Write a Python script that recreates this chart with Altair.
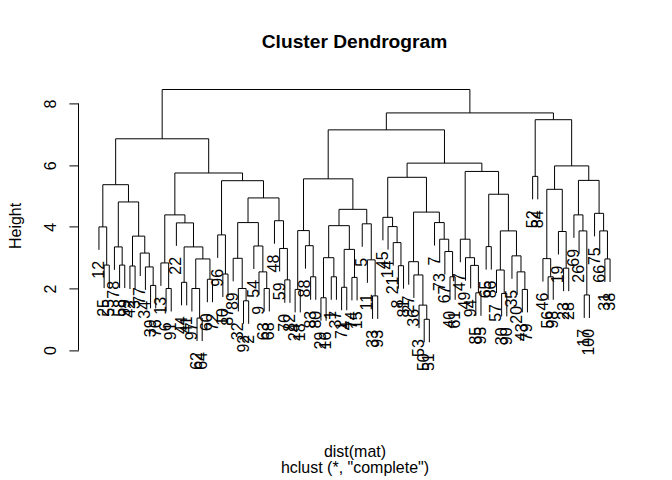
import altair as alt
import pandas as pd

# Dendrogram: each merge is (height, left, right); leaves are row labels.
LA = (5.37,
      (4.00, 12, (2.76, 25, 55)),
      (4.81,
       (3.35, 78, (2.76, 58, 99)),
       (3.70,
        (2.73, 42, 3),
        (3.15, 77, (2.70, 34, (2.10, 39, 76))))))
LB1 = (4.39,
       (2.83, 13, (2.00, 6, 91)),
       (4.13, 22,
        (3.35,
         (2.20, 44, 41),
         (2.96,
          (2.00, 97, (1.04, 62, 64)),
          (2.30, 60, 72)))))
LB2A = (3.74, 96, (2.47, 10, 87))
LB2B = (4.94,
        (4.14,
         (2.98, 89, (2.00, 32, (1.60, 92, 2))),
         (3.38, 54, (2.54, 9, (2.00, 63, 68)))),
        (4.20, 48, (3.30, 59, (2.28, 70, 82))))
RL1A = (3.88, (1.97, 24, 18), (3.39, 88, (2.38, 83, 80)))
RL1B = (4.57,
        (4.04,
         (3.00, (1.70, 29, 16), (2.38, 1, 37)),
         (3.27, (2.04, 71, 4), (2.36, 74, 15))),
        (4.10, 5, (2.93, 11, (1.76, 33, 93))))
RL2A = (5.61,
        (4.31, 45, (4.01, 14, (3.49, 21, (2.74, 8, 81)))),
        (4.48,
         (2.87, 27, (2.44, 36, (1.46, 53, (1.00, 50, 51)))),
         (4.14, 7, (3.60, 73, (3.20, 67, (2.38, 40, 61))))))
RL2B = (5.80,
        (3.60, 47, (3.00, 49, (2.75, 94, (1.86, 85, 95)))),
        (5.06,
         (3.36, 65, 86),
         (3.87,
          (2.60, 57, (1.84, 30, 90)),
          (3.06, 35, (2.54, 20, (1.97, 43, 79))))))
RR = (7.48,
      (5.64, 52, 84),
      (5.98,
       (5.22,
        (2.97, 46, (2.38, 56, 98)),
        (3.85, 19, (2.66, 23, 28))),
       (5.51,
        (4.39, 69, (3.87, 26, (1.79, 17, 100))),
        (4.44, 75, (3.87, 66, (2.96, 31, 38))))))
TREE = (8.46,
        (6.86, LA, (5.75, LB1, (5.50, LB2A, LB2B))),
        (7.70, (7.15, (5.56, RL1A, RL1B), (6.07, RL2A, RL2B)), RR))

Y_TICKS = [0, 2, 4, 6, 8]
TITLE = "Cluster Dendrogram"
XLAB = ["dist(mat)", 'hclust (*, "complete")']
YLAB = "Height"
FONT = "Liberation Sans"


def heights(node):
    if not isinstance(node, tuple):
        return []
    return [node[0]] + heights(node[1]) + heights(node[2])


all_h = heights(TREE)
hang = 0.1 * (max(all_h) - min(all_h))

segs = []
leaves = []
counter = [0]


def walk(node):
    """Return x position of node (leaf order index based)."""
    if not isinstance(node, tuple):
        counter[0] += 1
        return counter[0]
    h, left, right = node
    xl = walk(left)
    xr = walk(right)
    for child, xc in ((left, xl), (right, xr)):
        if isinstance(child, tuple):
            bottom = child[0]
        else:
            bottom = h - hang
            leaves.append((xc, bottom, str(child)))
        segs.append((xc, bottom, xc, h))
    segs.append((xl, h, xr, h))
    return (xl + xr) / 2


walk(TREE)
n = counter[0]

seg_df = pd.DataFrame(segs, columns=["x", "y", "x2", "y2"])
lab_df = pd.DataFrame(leaves, columns=["x", "y", "label"])
axis_df = pd.DataFrame({"y": [min(Y_TICKS)], "y2": [max(Y_TICKS)]})

lo = min(lab_df["y"])
hi = max(all_h)
ext = 0.04 * (hi - lo)
xs = alt.Scale(domain=[1 - 0.04 * (n - 1), n + 0.04 * (n - 1)], nice=False, zero=False)
ys = alt.Scale(domain=[lo - ext, hi + ext], nice=False, zero=False)

x_axis = alt.Axis(title=XLAB, labels=False, ticks=False, domain=False, grid=False,
                  titleFont=FONT, titleFontSize=16, titleFontWeight="normal",
                  titleColor="black", titleBaseline="top", titleY=91.6,
                  titleLineHeight=15.5)
y_axis = alt.Axis(values=Y_TICKS, title=YLAB, grid=False, domain=False,
                  tickSize=9.6, tickColor="black", tickWidth=1,
                  labelAngle=270, labelAlign="center", labelBaseline="alphabetic",
                  labelPadding=13.9, labelFont=FONT, labelFontSize=16,
                  labelColor="black", labelFlush=False,
                  titleFont=FONT, titleFontSize=16, titleFontWeight="normal",
                  titleColor="black", titleAngle=270, titleAlign="center",
                  titleBaseline="alphabetic", titleX=-58.5, titleY=146)

lines = alt.Chart(seg_df).mark_rule(color="black", strokeWidth=1).encode(
    x=alt.X("x:Q", scale=xs, axis=x_axis),
    x2="x2:Q",
    y=alt.Y("y:Q", scale=ys, axis=y_axis),
    y2="y2:Q",
)

text = alt.Chart(lab_df).mark_text(
    angle=270, align="right", baseline="middle", dx=-11,
    fontSize=16, font=FONT, color="black"
).encode(
    x=alt.X("x:Q", scale=xs),
    y=alt.Y("y:Q", scale=ys),
    text="label:N",
)

axis_line = alt.Chart(axis_df).mark_rule(color="black", strokeWidth=1).encode(
    x=alt.value(0),
    y=alt.Y("y:Q", scale=ys),
    y2="y2:Q",
)

chart = alt.layer(lines, text, axis_line).properties(
    width=552,
    height=273,
    title=alt.TitleParams(TITLE, font=FONT, fontSize=19.2, fontWeight="bold",
                          color="black", anchor="middle", frame="group",
                          baseline="alphabetic", offset=12.4),
    padding={"left": 70.5, "top": 71.4, "right": 25, "bottom": 126},
    autosize="none",
).configure_view(stroke=None)

chart.save("out.html", embed_options={"renderer": "svg", "actions": False})
